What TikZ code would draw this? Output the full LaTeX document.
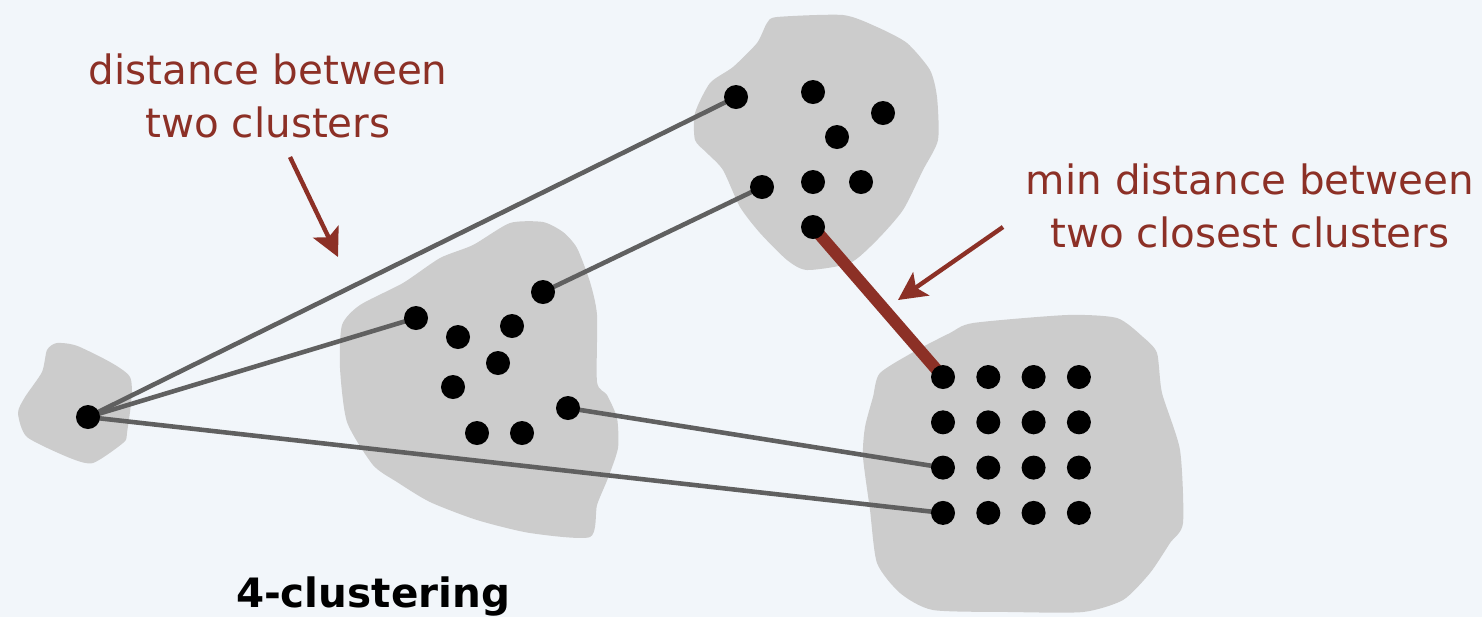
\documentclass[tikz,border=0pt]{standalone}
\usepackage{fontspec}
\setmainfont{DejaVu Sans}
\usetikzlibrary{arrows.meta, positioning}

\definecolor{bgblue}{RGB}{242,246,250}
\definecolor{blobgray}{RGB}{204,204,204}
\definecolor{linkgray}{RGB}{96,96,96}
\definecolor{clusterred}{RGB}{140,48,38}

\pgfdeclarelayer{back}
\pgfsetlayers{back,main}

\begin{document}
\begin{tikzpicture}[x=0.01cm, y=-0.01cm,
  dot/.style={circle, fill=black, inner sep=0pt, minimum size=0.24cm},
  blob/.style={fill=blobgray},
  link/.style={linkgray, line width=1.3pt},
  note/.style={clusterred, font=\fontsize{11.5}{15.3}\selectfont, align=center},
  pointer/.style={clusterred, line width=1.25pt, -{Stealth[length=8pt,width=8pt,inset=1.8pt]}}]
  \useasboundingbox (0,0) rectangle (1482,617);

  % Background and clusters
  \begin{pgfonlayer}{back}
    \fill[bgblue] (0,0) rectangle (1482,617);
    \fill[blob] plot[smooth cycle, tension=0.4] coordinates {(57,343) (80,347) (130,377) (127,433) (123,443) (93,463) (70,458) (27,437) (18,413) (25,397) (42,372) (47,350)};
    \fill[blob] plot[smooth cycle, tension=0.4] coordinates {(543,222) (510,223) (473,245) (440,258) (403,283) (360,305) (342,325) (340,368) (347,422) (373,465) (397,482) (430,502) (477,520) (530,533) (590,537) (597,505) (608,478) (618,448) (617,418) (607,395) (597,382) (597,315) (590,282) (577,248) (563,232)};
    \fill[blob] plot[smooth cycle, tension=0.4] coordinates {(767,23) (777,17) (843,15) (877,27) (907,43) (930,70) (937,97) (938,140) (923,170) (903,210) (877,240) (850,263) (807,270) (787,260) (760,233) (740,207) (723,170) (707,153) (695,140) (695,113) (710,83) (733,67) (757,43)};
    \fill[blob] plot[smooth cycle, tension=0.4] coordinates {(973,323) (1067,315) (1117,318) (1143,337) (1157,353) (1162,393) (1180,450) (1183,523) (1170,543) (1150,573) (1123,600) (1083,612) (1010,612) (933,610) (900,593) (877,563) (870,510) (863,457) (865,427) (873,397) (880,373) (917,350) (950,333)};
  \end{pgfonlayer}

  % Cluster A
  \node[dot] (a1) at (88,417) {};

  % Cluster B
  \node[dot] (b1) at (543,292) {};
  \node[dot] (b2) at (416,318) {};
  \node[dot] (b3) at (458,337) {};
  \node[dot] (b4) at (512,326) {};
  \node[dot] (b5) at (498,363) {};
  \node[dot] (b6) at (453,387) {};
  \node[dot] (b7) at (568,408) {};
  \node[dot] (b8) at (477,433) {};
  \node[dot] (b9) at (522,433) {};

  % Cluster C
  \node[dot] (c1) at (736,97) {};
  \node[dot] (c2) at (813,92) {};
  \node[dot] (c3) at (883,113) {};
  \node[dot] (c4) at (837,137) {};
  \node[dot] (c5) at (762,187) {};
  \node[dot] (c6) at (813,182) {};
  \node[dot] (c7) at (861,182) {};
  \node[dot] (c8) at (813,227) {};

  % Cluster D (grid)
  \foreach \i in {1,...,4}
    \foreach \j in {1,...,4}
      \node[dot] (d-\i-\j) at ({943+45.3*(\j-1)}, {377+45.3*(\i-1)}) {};

  % Distances between clusters
  \begin{pgfonlayer}{back}
    \draw[link] (a1.center) -- (c1.center);
    \draw[link] (a1.center) -- (b2.center);
    \draw[link] (a1.center) -- (d-4-1.center);
    \draw[link] (b1.center) -- (c5.center);
    \draw[link] (b7.center) -- (d-3-1.center);
    \draw[clusterred, line width=3.4pt] (c8.center) -- (d-1-1.center);
  \end{pgfonlayer}

  % Labels
  \node[note] (distlabel) at (268,96) {distance between\\two clusters};
  \node[note] (minlabel) at (1250,206) {min distance between\\two closest clusters};
  \node[font=\bfseries\fontsize{11.5}{14}\selectfont, anchor=base] (title) at (373,607) {4-clustering};

  % Pointers
  \coordinate (disttail) at (290,157);
  \coordinate (disttip) at (338,257);
  \coordinate (mintail) at (1003,227);
  \coordinate (mintip) at (898,300);
  \draw[pointer] (disttail) -- (disttip);
  \draw[pointer] (mintail) -- (mintip);
\end{tikzpicture}
\end{document}
